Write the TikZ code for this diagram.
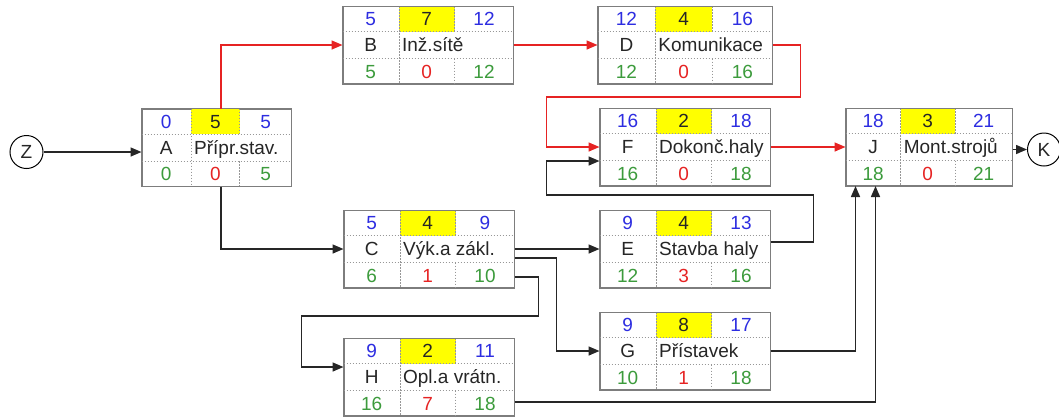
\documentclass[tikz,border=0pt]{standalone}
\usepackage{fontspec}
\setmainfont{Liberation Sans}
\usetikzlibrary{positioning, calc, arrows.meta}

\definecolor{modra}{RGB}{45,45,225}
\definecolor{zelena}{RGB}{60,155,60}
\definecolor{cervena}{RGB}{230,35,35}
\definecolor{zluta}{RGB}{255,255,0}
\definecolor{ramec}{RGB}{125,125,125}

\tikzset{
	cinn/.style={draw=ramec, line width=1pt, fill=white, minimum width=170pt, minimum height=77pt, inner sep=0pt},
	delic/.style={draw=ramec!80, line width=0.6pt, dash pattern=on 1.5pt off 1.5pt},
	udalost/.style={draw, circle, line width=1pt, minimum size=33pt, inner sep=0pt, text=black!85},
	spoj/.style={line width=1.5pt, color=black!85},
	krit/.style={line width=1.5pt, color=cervena},
	txt/.style={inner sep=0pt, text height=13.6pt, text depth=0pt, text=black!85},
}

% #1 uzel, #2 nazev, #3 ZM, #4 doba, #5 KM, #6 ZP, #7 rezerva, #8 KP
\newcommand{\cinnost}[8]{%
	\coordinate (p1) at ($(#1.north west)!0.33!(#1.north east)$);
	\coordinate (p2) at ($(#1.north west)!0.655!(#1.north east)$);
	\coordinate (s1) at ([yshift=-25.5pt]#1.north);
	\coordinate (s2) at ([yshift=25.5pt]#1.south);
	\coordinate (r1) at ([yshift=-13pt]#1.north);
	\coordinate (r3) at ([yshift=12.5pt]#1.south);
	\coordinate (c1) at ($(#1.north west)!0.5!(p1)$);
	\coordinate (c2) at ($(p1)!0.5!(p2)$);
	\coordinate (c3) at ($(p2)!0.5!(#1.north east)$);
	\fill[zluta] (p1) rectangle (p2 |- s1);
	\draw[delic] (#1.west |- s1) -- (#1.east |- s1)
		(#1.west |- s2) -- (#1.east |- s2)
		(p1) -- (p1 |- #1.south)
		(p2) -- (p2 |- s1)
		(p2 |- s2) -- (p2 |- #1.south);
	\draw[draw=ramec, line width=1pt] (#1.north west) rectangle (#1.south east);
	\node[txt, text=modra] at (c1 |- r1) {#3};
	\node[txt] at (c2 |- r1) {#4};
	\node[txt, text=modra] at (c3 |- r1) {#5};
	\node[txt] at (c1 |- #1.center) {#1};
	\node[txt, anchor=west, xshift=3pt] at (p1 |- #1.center) {#2};
	\node[txt, text=zelena] at (c1 |- r3) {#6};
	\node[txt, text=cervena] at (c2 |- r3) {#7};
	\node[txt, text=zelena] at (c3 |- r3) {#8};
}

\begin{document}
\begin{tikzpicture}[node distance=102pt and 256pt, on grid, font=\fontsize{19}{22}\selectfont, >={Triangle[length=11pt,width=9pt]}]
	\useasboundingbox (0,0) rectangle (1059pt,-416pt);
	\node[cinn, minimum width=149pt] (A) at (216.5pt,-147.5pt) {};
	\node[cinn] (B) [above right=102.5pt and 211.5pt of A] {};
	\node[cinn, minimum width=174pt] (D) [right=257pt of B] {};
	\node[cinn] (F) [below=of D] {};
	\node[cinn] (E) [below=of F] {};
	\node[cinn] (G) [below=of E] {};
	\node[cinn] (C) [left=of E] {};
	\node[cinn] (H) [below=128pt of C] {};
	\node[cinn, minimum width=166pt] (J) [right=244pt of F] {};
	\node[udalost] (Z) [left=190pt of A, yshift=-4.5pt] {Z};
	\node[udalost] (K) [right=115pt of J, yshift=-2.5pt] {K};

	\cinnost{A}{Přípr.stav.}{0}{5}{5}{0}{0}{5}
	\cinnost{B}{Inž.sítě}{5}{7}{12}{5}{0}{12}
	\cinnost{C}{Výk.a zákl.}{5}{4}{9}{6}{1}{10}
	\cinnost{D}{Komunikace}{12}{4}{16}{12}{0}{16}
	\cinnost{E}{Stavba haly}{9}{4}{13}{12}{3}{16}
	\cinnost{F}{Dokonč.haly}{16}{2}{18}{16}{0}{18}
	\cinnost{G}{Přístavek}{9}{8}{17}{10}{1}{18}
	\cinnost{H}{Opl.a vrátn.}{9}{2}{11}{16}{7}{18}
	\cinnost{J}{Mont.strojů}{18}{3}{21}{18}{0}{21}

	% kriticka cesta
	\path[krit,->]	(B) edge (D)
					(F) edge (J);
	\draw[krit,->] ([xshift=4.5pt]A.north) |- (B.west);
	\draw[krit,->] (D.east) -- ++(28pt,0) |- ([xshift=-53pt,yshift=50pt]F.west) |- (F.west);

	% ostatni vazby
	\path[spoj,->]	(Z) edge (Z -| A.west)
					(J.east |- K) edge (K)
					(C.east) edge (C.east -| E.west);
	\draw[spoj,->] ([xshift=4.5pt]A.south) |- (C.west);
	\draw[spoj,->] ([yshift=-9pt]C.east) -- ++(42pt,0) |- (G.west);
	\draw[spoj,->] ([yshift=-28pt]C.east) -- ++(24pt,0) -- ++(0,-39pt) -| ([xshift=-42pt,yshift=10pt]H.west) -- ([yshift=10pt]H.west);
	\draw[spoj,->] ([yshift=7pt]E.east) -- ++(43pt,0) -- ++(0,47pt) -| ([xshift=-53pt,yshift=-14pt]F.west) -- ([yshift=-14pt]F.west);
	\draw[spoj,->] (G.east) -| ([xshift=10pt]J.south west);
	\draw[spoj,->] ([yshift=-25pt]H.east) -| ([xshift=30pt]J.south west);
\end{tikzpicture}
\end{document}
